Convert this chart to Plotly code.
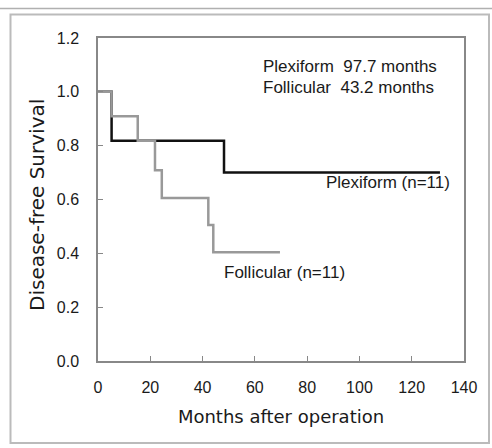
import plotly.graph_objects as go

# Data
foll_months = [0, 5.2, 15.2, 21.8, 24.4, 42.2, 44.1, 69.6]
foll_surv = [1.0, 0.909, 0.818, 0.709, 0.606, 0.505, 0.404, 0.404]
plex_months = [0, 5.2, 48.2, 130.8]
plex_surv = [1.0, 0.818, 0.70, 0.70]
x_ticks = [0, 20, 40, 60, 80, 100, 120, 140]
y_ticks = [0.0, 0.2, 0.4, 0.6, 0.8, 1.0, 1.2]
y_tick_labels = ["0.0", "0.2", "0.4", "0.6", "0.8", "1.0", "1.2"]

W, H = 492, 448
L, R, T, B = 98, 464, 38, 361


def px(x):
    return (x - L) / (R - L)


def py(y):
    return (B - y) / (B - T)


fig = go.Figure()
fig.add_trace(go.Scatter(x=plex_months, y=plex_surv, mode="lines", line_shape="hv",
                         line=dict(color="#111111", width=2.5), showlegend=False))
fig.add_trace(go.Scatter(x=foll_months, y=foll_surv, mode="lines", line_shape="hv",
                         line=dict(color="#999999", width=2.5), showlegend=False))

tfont = dict(family="Liberation Sans, Arial", size=17, color="#1a1a1a")
kfont = dict(family="Liberation Sans, Arial", size=16, color="#1a1a1a")
fig.add_annotation(x=62.2, y=1.093, text="Plexiform  97.7 months", showarrow=False,
                   xanchor="left", yanchor="middle", font=tfont)
fig.add_annotation(x=62.2, y=1.015, text="Follicular  43.2 months", showarrow=False,
                   xanchor="left", yanchor="middle", font=tfont)
fig.add_annotation(x=135.4, y=0.662, text="Plexiform (n=11)", showarrow=False,
                   xanchor="right", yanchor="middle", font=tfont)
fig.add_annotation(x=47.3, y=0.327, text="Follicular (n=11)", showarrow=False,
                   xanchor="left", yanchor="middle", font=tfont)

# y axis title
fig.add_annotation(xref="paper", yref="paper", x=px(37), y=py(205),
                   text="Disease-free Survival", textangle=-90, showarrow=False,
                   xanchor="center", yanchor="middle",
                   font=dict(family="DejaVu Sans", size=20, color="#1a1a1a"))

# frame
fig.add_shape(type="rect", xref="paper", yref="paper",
              x0=px(10.5), x1=px(489), y0=py(443), y1=py(14.5),
              line=dict(color="#bbbbbb", width=2))
fig.add_shape(type="line", xref="paper", yref="paper",
              x0=px(0), x1=px(492), y0=py(8.5), y1=py(8.5),
              line=dict(color="#b0b0b0", width=1.5))

fig.update_xaxes(range=[0, 140], tickvals=x_ticks, ticks="inside", ticklen=5,
                 tickcolor="#888888", showline=True, mirror=True, linecolor="#888888",
                 linewidth=1.5, showgrid=False, zeroline=False, tickfont=kfont,
                 ticklabelstandoff=11,
                 title=dict(text="Months after operation",
                            font=dict(family="DejaVu Sans", size=18, color="#1a1a1a"),
                            standoff=15))
fig.update_yaxes(range=[0, 1.2], tickvals=y_ticks, ticktext=y_tick_labels, ticks="inside",
                 ticklen=5, tickcolor="#888888", showline=True, mirror=True,
                 linecolor="#888888", linewidth=1.5, showgrid=False, zeroline=False,
                 tickfont=kfont, ticklabelstandoff=14)
fig.update_layout(width=W, height=H, margin=dict(l=L, r=W - R, t=T, b=H - B),
                  plot_bgcolor="white", paper_bgcolor="white")
fig.write_html("out.html")
